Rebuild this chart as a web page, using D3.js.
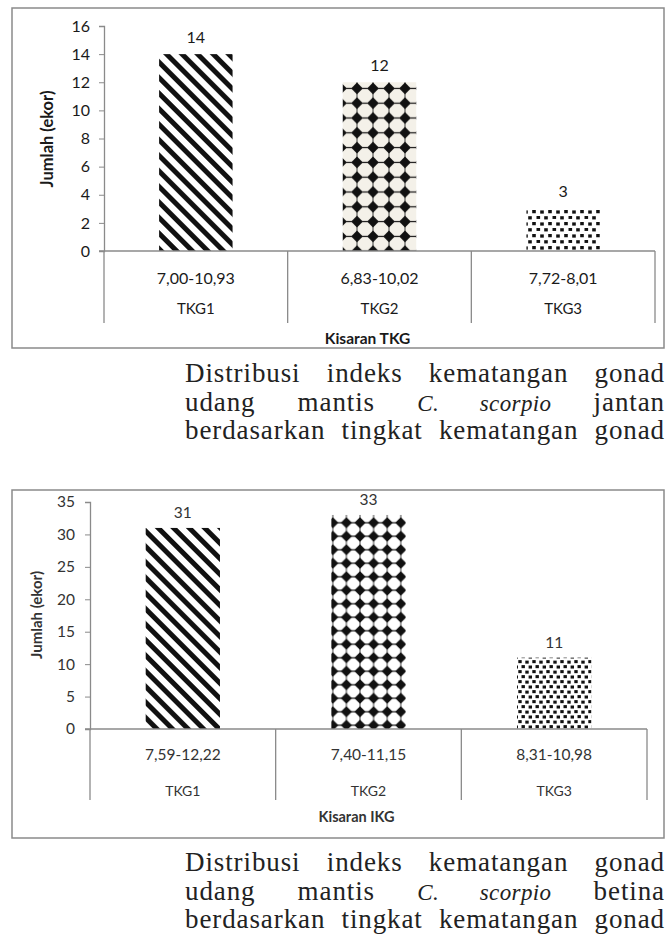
<!DOCTYPE html>
<html lang="id">
<head>
<meta charset="UTF-8">
<title>Distribusi IKG</title>
<script src="https://d3js.org/d3.v7.min.js"></script>
<style>
    body { margin: 0; background: #fff; }
    #wrap { position: relative; width: 667px; height: 935px; overflow: hidden; }
    svg { position: absolute; left: 0; top: 0; }
    .cap {
        position: absolute;
        left: 185px;
        width: 480px;
        font-family: "Liberation Serif", serif;
        font-size: 27px;
        letter-spacing: 0.9px;
        color: #222;
    }
    .cap div {
        text-align: justify;
        text-align-last: justify;
        height: 28.5px;
        line-height: 28.5px;
        white-space: nowrap;
    }
    .cap i { font-size: 23px; letter-spacing: 0.4px; }
    .axis text { font-family: Lato, "Open Sans", sans-serif; }
</style>
</head>
<body>
<div id="wrap"></div>
<script>
    // chart 1 - jantan
    const categories1 = ["TKG1", "TKG2", "TKG3"];
    const ranges1 = ["7,00-10,93", "6,83-10,02", "7,72-8,01"];
    const values1 = [14, 12, 3];
    const yTicks1 = [0, 2, 4, 6, 8, 10, 12, 14, 16];

    // chart 2 - betina
    const categories2 = ["TKG1", "TKG2", "TKG3"];
    const ranges2 = ["7,59-12,22", "7,40-11,15", "8,31-10,98"];
    const values2 = [31, 33, 11];
    const yTicks2 = [0, 5, 10, 15, 20, 25, 30, 35];

    const width = 667, height = 935;
    const wrap = d3.select("#wrap");
    const svg = wrap.append("svg").attr("width", width).attr("height", height);
    const defs = svg.append("defs");

    // stripes "\\\"
    const stripe = defs.append("pattern").attr("id", "stripe")
        .attr("patternUnits", "userSpaceOnUse")
        .attr("width", 11).attr("height", 11)
        .attr("patternTransform", "rotate(-45)");
    stripe.append("rect").attr("width", 11).attr("height", 11).attr("fill", "#fff");
    stripe.append("rect").attr("width", 5).attr("height", 11).attr("fill", "#111");

    // diamond grid
    function diamondPattern(id, ox, oy, w, h, r, bg) {
        const p = defs.append("pattern").attr("id", id)
            .attr("patternUnits", "userSpaceOnUse")
            .attr("x", ox).attr("y", oy)
            .attr("width", w).attr("height", h);
        p.append("rect").attr("width", w).attr("height", h).attr("fill", bg);
        p.append("line").attr("x1", 0).attr("x2", w).attr("y1", h / 2).attr("y2", h / 2)
            .attr("stroke", "#111").attr("stroke-width", 1.2);
        p.append("line").attr("x1", w / 2).attr("x2", w / 2).attr("y1", 0).attr("y2", h)
            .attr("stroke", "#111").attr("stroke-width", 0.8);
        p.append("path")
            .attr("d", `M${w / 2},${h / 2 - r} L${w / 2 + r},${h / 2} L${w / 2},${h / 2 + r} L${w / 2 - r},${h / 2} Z`)
            .attr("fill", "#111");
        return p;
    }
    diamondPattern("diamond1", 349, 81, 16, 14.8, 5.8, "#f4f1e9");
    diamondPattern("diamond2", 326, 516, 13.6, 13.5, 5.6, "#fff");

    // dots
    function dotPattern(id, w, h, pts, s) {
        const p = defs.append("pattern").attr("id", id)
            .attr("patternUnits", "userSpaceOnUse")
            .attr("width", w).attr("height", h);
        p.append("rect").attr("width", w).attr("height", h).attr("fill", "#fff");
        p.selectAll("rect.d").data(pts).join("rect").attr("class", "d")
            .attr("x", d => d[0] - s / 2).attr("y", d => d[1] - s / 2)
            .attr("width", s).attr("height", s * 0.9)
            .attr("fill", "#111");
        return p;
    }
    dotPattern("dots1", 16, 12, [[2, 2], [10.3, 1.5], [6, 7.8], [14, 8.2]], 3.6);
    dotPattern("dots2", 14, 10, [[2, 1.8], [9, 2.3], [5.2, 6.8], [12.3, 7.2]], 3.4);

    function drawChart(cfg) {
        const g = svg.append("g");

        g.append("rect")
            .attr("x", cfg.box[0]).attr("y", cfg.box[1])
            .attr("width", cfg.box[2] - cfg.box[0]).attr("height", cfg.box[3] - cfg.box[1])
            .attr("fill", "#fff").attr("stroke", "#8a8a8a").attr("stroke-width", 1.5);

        const x = d3.scaleBand().domain(cfg.categories).range([cfg.left, cfg.right]);
        const y = d3.scaleLinear().domain([0, d3.max(cfg.ticks)]).range([cfg.bottom, cfg.top]);

        // bars
        const bw = x.bandwidth() * 0.4;
        g.selectAll("rect.bar").data(cfg.values).join("rect").attr("class", "bar")
            .attr("x", (d, i) => x(cfg.categories[i]) + (x.bandwidth() - bw) / 2)
            .attr("y", d => y(d))
            .attr("width", bw)
            .attr("height", d => y(0) - y(d))
            .attr("fill", (d, i) => `url(#${cfg.fills[i]})`);

        // value labels
        g.selectAll("text.val").data(cfg.values).join("text").attr("class", "val")
            .attr("x", (d, i) => x(cfg.categories[i]) + x.bandwidth() / 2)
            .attr("y", d => y(d) - cfg.valOffset)
            .attr("text-anchor", "middle").attr("dominant-baseline", "central")
            .attr("font-family", "Lato, sans-serif")
            .attr("font-size", cfg.fs)
            .attr("fill", cfg.textColor)
            .text(d => d);

        // y axis
        const ya = g.append("g").attr("class", "axis")
            .attr("transform", `translate(${cfg.left},0)`)
            .call(d3.axisLeft(y).tickValues(cfg.ticks).tickSize(5).tickPadding(cfg.tickPad));
        ya.select(".domain").attr("stroke", "#8a8a8a").attr("stroke-width", 1.3);
        ya.selectAll(".tick line").attr("stroke", "#8a8a8a");
        ya.selectAll(".tick text").attr("font-size", cfg.fs).attr("fill", cfg.textColor);

        // x axis line
        g.append("line")
            .attr("x1", cfg.left - 5).attr("x2", cfg.right)
            .attr("y1", y(0)).attr("y2", y(0))
            .attr("stroke", "#8a8a8a").attr("stroke-width", 1.3);

        // category separators
        const bounds = cfg.categories.map(c => x(c)).concat([cfg.right]);
        g.selectAll("line.sep").data(bounds).join("line").attr("class", "sep")
            .attr("x1", d => d).attr("x2", d => d)
            .attr("y1", y(0)).attr("y2", cfg.sepBottom)
            .attr("stroke", "#8a8a8a").attr("stroke-width", 1.3);

        // range labels + category labels
        g.selectAll("text.rng").data(cfg.ranges).join("text").attr("class", "rng")
            .attr("x", (d, i) => x(cfg.categories[i]) + x.bandwidth() / 2)
            .attr("y", cfg.rangeY)
            .attr("text-anchor", "middle").attr("dominant-baseline", "central")
            .attr("font-family", "Lato, sans-serif")
            .attr("font-size", cfg.fsRange)
            .attr("fill", cfg.textColor)
            .text(d => d);
        g.selectAll("text.cat").data(cfg.categories).join("text").attr("class", "cat")
            .attr("x", d => x(d) + x.bandwidth() / 2)
            .attr("y", cfg.catY)
            .attr("text-anchor", "middle").attr("dominant-baseline", "central")
            .attr("font-family", "Lato, sans-serif")
            .attr("font-size", cfg.fsCat)
            .attr("fill", cfg.textColor)
            .text(d => d);

        // axis titles
        g.append("text")
            .attr("x", (cfg.left + cfg.right) / 2 - 12).attr("y", cfg.xTitleY)
            .attr("text-anchor", "middle").attr("dominant-baseline", "central")
            .attr("font-family", "Lato, sans-serif").attr("font-weight", "bold")
            .attr("font-size", cfg.fsTitle).attr("fill", cfg.textColor)
            .text(cfg.xTitle);
        g.append("text")
            .attr("transform", `translate(${cfg.yTitleX},${cfg.yTitleY}) rotate(-90)`)
            .attr("text-anchor", "middle").attr("dominant-baseline", "central")
            .attr("font-family", "Lato, sans-serif").attr("font-weight", "bold")
            .attr("font-size", cfg.fsYTitle).attr("fill", cfg.textColor)
            .text("Jumlah (ekor)");
    }

    drawChart({
        categories: categories1, ranges: ranges1, values: values1, ticks: yTicks1,
        box: [12, 8, 664, 348],
        left: 104, right: 655, top: 26, bottom: 251,
        sepBottom: 323, rangeY: 277, catY: 308, xTitleY: 338,
        yTitleX: 47, yTitleY: 139,
        fills: ["stripe", "diamond1", "dots1"],
        fs: 16, fsRange: 16, fsCat: 15, fsTitle: 15.5, fsYTitle: 16.5, tickPad: 9, valOffset: 18,
        textColor: "#1a1a1a", xTitle: "Kisaran TKG"
    });

    drawChart({
        categories: categories2, ranges: ranges2, values: values2, ticks: yTicks2,
        box: [12, 490, 664, 838],
        left: 90, right: 647, top: 502, bottom: 729,
        sepBottom: 800, rangeY: 754, catY: 790, xTitleY: 816,
        yTitleX: 36, yTitleY: 615,
        fills: ["stripe", "diamond2", "dots2"],
        fs: 15.5, fsRange: 15.5, fsCat: 14, fsTitle: 14.5, fsYTitle: 15, tickPad: 10, valOffset: 16,
        textColor: "#333", xTitle: "Kisaran IKG"
    });

    // captions
    const cap1 = wrap.append("div").attr("class", "cap").style("top", "359px");
    cap1.append("div").text("Distribusi indeks kematangan gonad");
    cap1.append("div").html("udang mantis <i>C. scorpio</i> jantan");
    cap1.append("div").text("berdasarkan tingkat kematangan gonad");

    const cap2 = wrap.append("div").attr("class", "cap").style("top", "848px");
    cap2.append("div").text("Distribusi indeks kematangan gonad");
    cap2.append("div").html("udang mantis <i>C. scorpio</i> betina");
    cap2.append("div").text("berdasarkan tingkat kematangan gonad");
</script>
</body>
</html>
